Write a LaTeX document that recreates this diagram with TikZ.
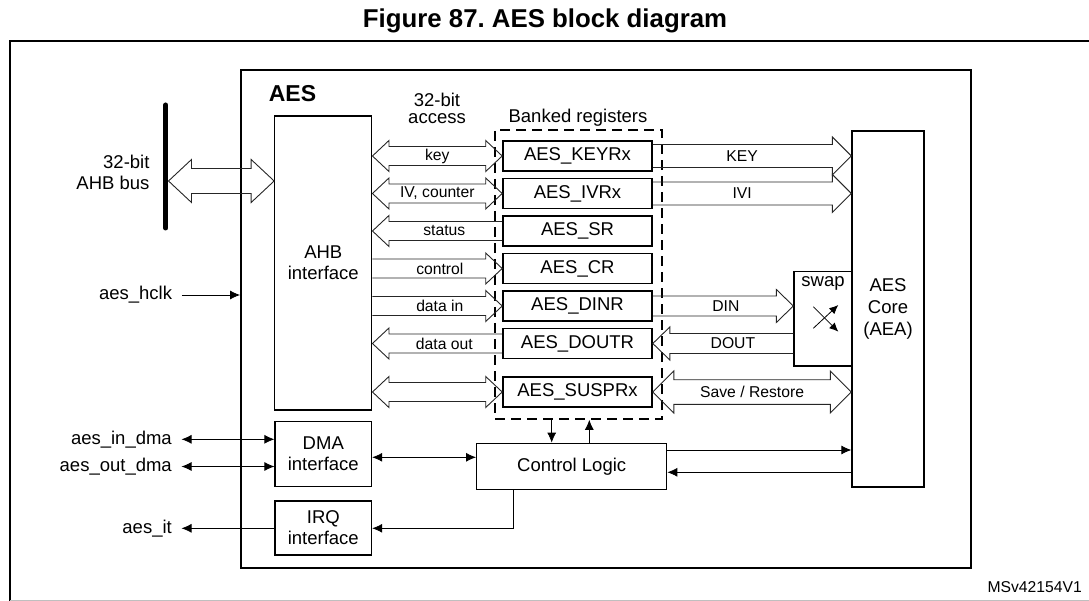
\documentclass[tikz,border=0pt]{standalone}
\usepackage{fontspec}
\setmainfont{Liberation Sans}
\usetikzlibrary{calc,arrows.meta}
\frenchspacing

\newcommand{\mainsz}{\fontsize{18.5}{21}\selectfont}
\newcommand{\smallsz}{\fontsize{15.7}{18}\selectfont}
% hollow bus arrows: tail, tip, shaft half width, head half width, head length
\newcommand{\fatarrow}[5]{%
  \draw[fat] ($(#1)+(0,#3)$) -- ($(#2)!#5!(#1)+(0,#3)$) -- ($(#2)!#5!(#1)+(0,#4)$) -- (#2)
    -- ($(#2)!#5!(#1)+(0,-#4)$) -- ($(#2)!#5!(#1)+(0,-#3)$) -- ($(#1)+(0,-#3)$);}
\newcommand{\fatboth}[5]{%
  \draw[fat] (#1) -- ($(#1)!#5!(#2)+(0,#4)$) -- ($(#1)!#5!(#2)+(0,#3)$) -- ($(#2)!#5!(#1)+(0,#3)$)
    -- ($(#2)!#5!(#1)+(0,#4)$) -- (#2) -- ($(#2)!#5!(#1)+(0,-#4)$) -- ($(#2)!#5!(#1)+(0,-#3)$)
    -- ($(#1)!#5!(#2)+(0,-#3)$) -- ($(#1)!#5!(#2)+(0,-#4)$) -- cycle;}

\begin{document}
\begin{tikzpicture}[x=1pt,y=-1pt,>={Latex[length=10pt,width=9pt]},
    blk/.style={draw,line width=1.3pt,inner sep=0pt,align=center,font=\mainsz},
    reg/.style={blk,line width=1.6pt,minimum width=149pt,minimum height=30pt},
    fat/.style={draw=black!85,line width=0.9pt},
    sig/.style={line width=0.8pt},
    lbl/.style={font=\smallsz,inner sep=0pt},
    pin/.style={font=\mainsz,anchor=east,inner sep=0pt}]
\useasboundingbox (0,0) rectangle (1089,601);

\node[font=\bfseries\fontsize{25.8}{28}\selectfont,anchor=base] (title) at (545,27.3) {Figure 87. AES block diagram};
\draw[line width=1.2pt] (1089,41) -- (10,41) -- (10,601);
\draw[black!25,line width=0.8pt] (10,600) -- (1089,600);

% AES peripheral
\node[blk,line width=1.8pt,minimum width=730pt,minimum height=498pt] (aes) at (606,319) {};
\node[font=\bfseries\fontsize{23}{26}\selectfont] (aeslbl) at (292.5,93.8) {AES};
\node[blk,minimum width=97pt,minimum height=294pt] (ahb) at (323.3,263) {AHB\\interface};
\node[blk,minimum width=96.5pt,minimum height=65pt] (dma) at (323.3,454.2) {DMA\\interface};
\node[blk,minimum width=96.5pt,minimum height=54pt] (irq) at (323.3,528) {IRQ\\interface};
\node[blk,minimum width=190pt,minimum height=46pt] (ctl) at (571.7,466.3) {Control Logic};
\node[blk,font=\fontsize{18.5}{22.3}\selectfont,minimum width=72pt,minimum height=356pt] (core) at (888,309) {AES\\Core\\(AEA)};
\node[blk,minimum width=58pt,minimum height=94.3pt] (swap) at (823,318.8) {};
\node[font=\mainsz] (swaplbl) at (823,283.5) {swap};

% banked registers
\node[draw,line width=1.6pt,dash pattern=on 10pt off 6pt,minimum width=167pt,minimum height=289pt] (bank) at (578.5,274.5) {};
\node[font=\mainsz] (banklbl) at (578,118) {Banked registers};
\node[font=\fontsize{18.5}{17.5}\selectfont,align=center] (acclbl) at (437,108.5) {32-bit\\access};
\foreach \name/\txt/\y in {keyr/AES\_KEYRx/156, ivr/AES\_IVRx/193.5, sr/AES\_SR/231, cr/AES\_CR/268.5,
    dinr/AES\_DINR/306, doutr/AES\_DOUTR/343.5, suspr/AES\_SUSPRx/392}
  \node[reg] (\name) at (577.5,\y) {\txt};

% AHB bus
\draw[line width=5pt,line cap=round] (165.7,105) -- (165.7,228);
\node[font=\mainsz,align=right,anchor=east] (buslbl) at (153,172.5) {32-bit\\AHB bus};
\coordinate (busL) at (168.5,181);
\fatboth{busL}{busL -| ahb.west}{12.5}{21.5}{23pt}

% AHB interface <-> registers
\fatboth{ahb.east |- keyr.west}{keyr.west}{9.5}{15.5}{16.5pt}
\fatboth{ahb.east |- ivr.west}{ivr.west}{9.5}{15.5}{16.5pt}
\fatarrow{sr.west}{ahb.east |- sr.west}{9.5}{15.5}{16.5pt}
\fatarrow{ahb.east |- cr.west}{cr.west}{9.5}{15.5}{16.5pt}
\fatarrow{ahb.east |- dinr.west}{dinr.west}{9.5}{15.5}{16.5pt}
\fatarrow{doutr.west}{ahb.east |- doutr.west}{9.5}{15.5}{16.5pt}
\fatboth{ahb.east |- suspr.west}{suspr.west}{9.5}{15.5}{16.5pt}
\node[lbl] (lkey) at ($(ahb.east |- keyr.west)!0.5!(keyr.west)$) {key};
\node[lbl] (liv) at ($(ahb.east |- ivr.west)!0.5!(ivr.west)$) {IV, counter};
\node[lbl,xshift=7pt] (lsr) at ($(ahb.east |- sr.west)!0.5!(sr.west)$) {status};
\node[lbl,xshift=2.5pt] (lcr) at ($(ahb.east |- cr.west)!0.5!(cr.west)$) {control};
\node[lbl,xshift=2.5pt] (ldin) at ($(ahb.east |- dinr.west)!0.5!(dinr.west)$) {data in};
\node[lbl,xshift=7pt] (ldout) at ($(ahb.east |- doutr.west)!0.5!(doutr.west)$) {data out};

% registers <-> core
\fatarrow{keyr.east}{keyr.east -| core.west}{11.5}{19}{19pt}
\fatarrow{ivr.east}{ivr.east -| core.west}{11.5}{19}{19pt}
\fatarrow{dinr.east}{dinr.east -| swap.west}{10}{16.5}{17pt}
\fatarrow{doutr.east -| swap.west}{doutr.east}{10}{16.5}{17pt}
\fatboth{suspr.east}{suspr.east -| core.west}{12.3}{21}{21pt}
\node[lbl] (lkey2) at ($(keyr.east)!0.45!(keyr.east -| core.west)$) {KEY};
\node[lbl] (liv2) at ($(ivr.east)!0.45!(ivr.east -| core.west)$) {IVI};
\node[lbl] (ldin2) at ($(dinr.east)!0.52!(dinr.east -| swap.west)$) {DIN};
\node[lbl] (ldout2) at ($(doutr.east)!0.57!(doutr.east -| swap.west)$) {DOUT};
\node[lbl] (lsave) at ($(suspr.east)!0.5!(suspr.east -| core.west)$) {Save / Restore};
\draw[sig,-{Latex[length=9pt,width=8pt]}] ([shift={(-9.7,-12.1)}]swap.center) -- ([shift={(15.3,12.9)}]swap.center);
\draw[sig,-{Latex[length=9pt,width=8pt]}] ([shift={(-9.7,9.5)}]swap.center) -- ([shift={(15.3,-13.8)}]swap.center);

% control signals
\coordinate (c1) at (666.7,450);
\coordinate (c2) at (666.7,472.3);
\draw[sig,->] (ctl.east |- c1) -- (core.west |- c1);
\draw[sig,->] (core.west |- c2) -- (ctl.east |- c2);
\coordinate (bk1) at (551.7,430);
\coordinate (bk2) at (589.3,430);
\draw[sig,->] (bank.south -| bk1) -- (ctl.north -| bk1);
\draw[sig,->] (ctl.north -| bk2) -- (bank.south -| bk2);
\coordinate (dm) at (420,457.3);
\draw[sig,<->] (dma.east |- dm) -- (ctl.west |- dm);
\coordinate (iq) at (513.6,528.3);
\draw[sig,->] (ctl.south -| iq) -- (iq) -- (irq.east |- iq);

% external pins
\node[pin] (hclk) at (172.3,295) {aes\_hclk};
\draw[sig,->] ([xshift=9.5pt]hclk.east) -- (hclk.east -| aes.west);
\node[pin] (indma) at (172,439.3) {aes\_in\_dma};
\draw[sig,<->] ([xshift=9.5pt]indma.east) -- (indma.east -| dma.west);
\node[pin] (outdma) at (172,466.5) {aes\_out\_dma};
\draw[sig,<->] ([xshift=9.5pt]outdma.east) -- (outdma.east -| dma.west);
\node[pin] (it) at (172,528.3) {aes\_it};
\draw[sig,->] (irq.west |- it.east) -- ([xshift=9.5pt]it.east);

\node[font=\smallsz,anchor=east,inner sep=0pt] (ref) at (1082,587) {MSv42154V1};
\end{tikzpicture}
\end{document}
